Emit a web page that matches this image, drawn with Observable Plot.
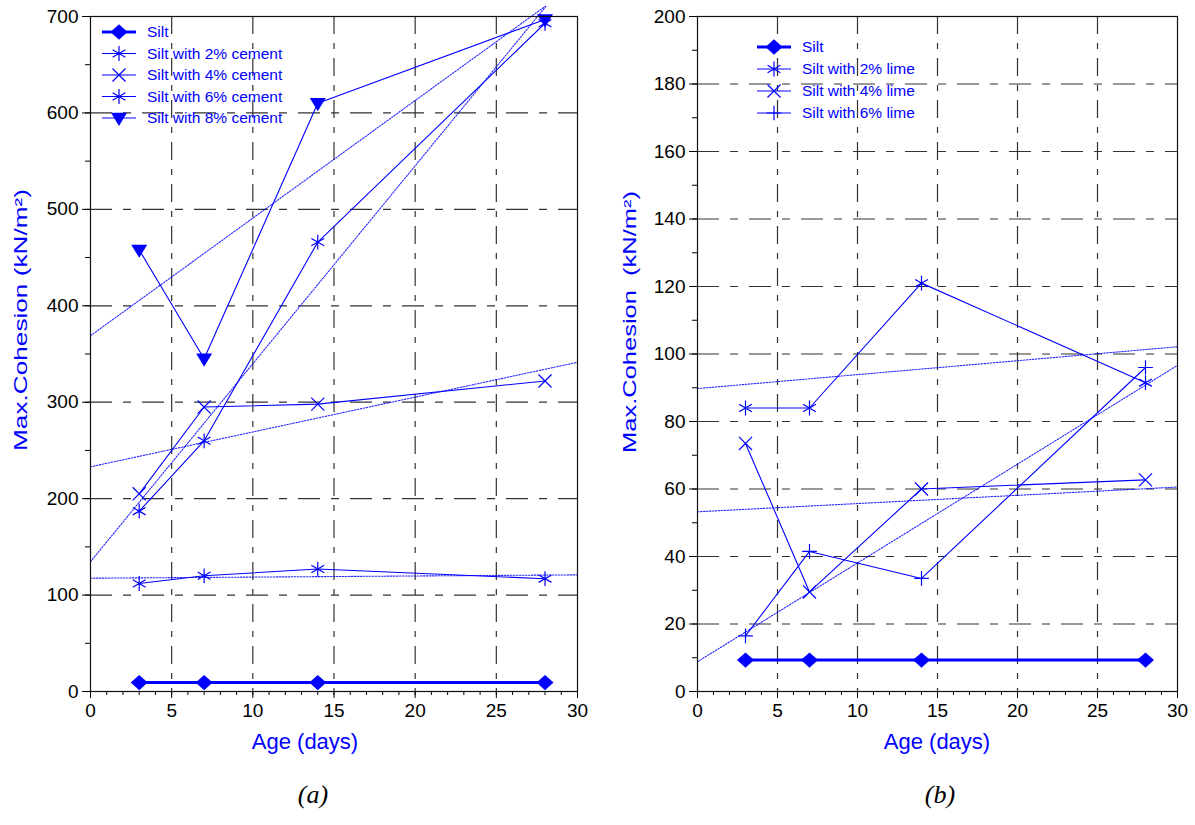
<!DOCTYPE html>
<html><head><meta charset="utf-8">
<script src="https://cdn.jsdelivr.net/npm/d3@7"></script>
<script src="https://cdn.jsdelivr.net/npm/@observablehq/plot@0.6"></script>
<style>
body{margin:0;background:#fff;font-family:Arial,"Liberation Sans",sans-serif;}
#wrap{position:relative;width:1195px;height:825px;overflow:hidden;}
.panel{position:absolute;top:0;}
.cap{position:absolute;top:780px;width:80px;text-align:center;font-family:"Liberation Serif","Times New Roman",serif;font-style:italic;font-size:26px;color:#000;}
</style>
</head><body><div id="wrap"></div>
<script>
// ---------- data ----------
const days = [3, 7, 14, 28];
const xTicks = [0, 5, 10, 15, 20, 25, 30];

const cementNames = ["Silt", "Silt with 2% cement", "Silt with 4% cement", "Silt with 6% cement", "Silt with 8% cement"];
const cementSilt = [9.3, 9.3, 9.3, 9.3];
const cement2 = [112, 120, 127, 117];
const cement4 = [205, 295, 298, 322];
const cement6 = [187, 260, 466, 693];
const cement8 = [458, 345, 610, 697];
const cementYTicks = [0, 100, 200, 300, 400, 500, 600, 700];

const limeNames = ["Silt", "Silt with 2% lime", "Silt with 4% lime", "Silt with 6% lime"];
const limeSilt = [9.3, 9.3, 9.3, 9.3];
const lime2 = [84, 84, 121, 91.5];
const lime4 = [73.5, 29.5, 60, 62.7];
const lime6 = [16.5, 41.5, 33.5, 96];
const limeYTicks = [0, 20, 40, 60, 80, 100, 120, 140, 160, 180, 200];

const yLabelA = "Max.Cohesion (kN/m\u00B2)";
const yLabelB = "Max.Cohesion  (kN/m\u00B2)";
const xLabel = "Age (days)";
const captions = ["(a)", "(b)"];

// ---------- symbols ----------
const BLUE = "#0000ff";
const triDown = {draw(ctx, size){ const r = Math.sqrt(size/Math.PI); ctx.moveTo(-r, -0.65*r); ctx.lineTo(r, -0.65*r); ctx.lineTo(0, r); ctx.closePath(); }};
const diamond = {draw(ctx, size){ const r = Math.sqrt(size/Math.PI); ctx.moveTo(0, -0.9*r); ctx.lineTo(r, 0); ctx.lineTo(0, 0.9*r); ctx.lineTo(-r, 0); ctx.closePath(); }};
const SYM = {
  diamond: {type: diamond, r: 8.5, fill: true},
  asterisk: {type: d3.symbolAsterisk, r: 7, fill: false},
  times: {type: d3.symbolTimes, r: 6, fill: false},
  plus: {type: d3.symbolPlus, r: 4.8, fill: false},
  tri: {type: triDown, r: 8, fill: true}
};

function regress(xs, ys){
  const mx = d3.mean(xs), my = d3.mean(ys);
  let sxy = 0, sxx = 0;
  xs.forEach((x, i) => { sxy += (x-mx)*(ys[i]-my); sxx += (x-mx)*(x-mx); });
  const m = sxy/sxx; return {m, b: my - m*mx};
}

function buildPanel(cfg){
  const rows = [];
  cfg.names.forEach((name, i) => cfg.values[i].forEach((v, j) => rows.push({series: name, idx: i, day: days[j], value: v})));
  const trend = [];
  cfg.names.forEach((name, i) => {
    if (i === 0) return;
    const {m, b} = regress(days, cfg.values[i]);
    const cap = cfg.yMax * 1.015;
    let x1 = 30;
    if (b + m*30 > cap) x1 = (cap - b)/m;
    trend.push({series: name, day: 0, value: b}, {series: name, day: x1, value: b + m*x1});
  });
  const yGrid = cfg.yTicks.filter(d => d > 0 && d < cfg.yMax);
  const xGrid = xTicks.filter(d => d > 0 && d < 30);
  const marks = [
    Plot.ruleX(xGrid, {stroke: "#333", strokeWidth: 1.2, strokeDasharray: "18,9,6,9"}),
    Plot.ruleY(yGrid, {stroke: "#333", strokeWidth: 1.2, strokeDasharray: "22,11,8,11"}),
    Plot.line(trend, {x: "day", y: "value", z: "series", stroke: BLUE, strokeWidth: 1.1, strokeDasharray: "1.5,1.5", strokeOpacity: 0.85}),
    Plot.line(rows.filter(d => d.idx > 0), {x: "day", y: "value", z: "series", stroke: BLUE, strokeWidth: 1.1}),
    Plot.line(rows.filter(d => d.idx === 0), {x: "day", y: "value", stroke: BLUE, strokeWidth: 3}),
    ...cfg.names.map((name, i) => {
      const s = cfg.syms[i];
      return Plot.dot(rows.filter(d => d.idx === i), {x: "day", y: "value", symbol: s.type, r: s.r,
        fill: s.fill ? BLUE : "none", stroke: s.fill ? "none" : BLUE, strokeWidth: 1.2});
    }),
    Plot.axisX({ticks: xTicks, tickSize: 7, tickPadding: 5, label: null, fontSize: 19}),
    Plot.axisX({ticks: d3.range(0, 31), tickSize: 4, tickFormat: () => "", label: null}),
    Plot.axisY({ticks: cfg.yTicks, tickSize: 8, tickPadding: 4, label: null, fontSize: 19}),
    Plot.axisY({ticks: cfg.yMinor, tickSize: 5, tickFormat: () => "", label: null}),
    Plot.frame({stroke: "#111", strokeWidth: 1.2})
  ];
  const svg = Plot.plot({
    width: cfg.width, height: 760,
    marginTop: 16, marginBottom: 69, marginLeft: cfg.marginLeft, marginRight: cfg.marginRight,
    x: {domain: [0, 30]}, y: {domain: [0, cfg.yMax]},
    style: {fontFamily: "Arial, 'Liberation Sans', sans-serif", fontSize: "19px", color: "#000", background: "transparent", overflow: "visible"},
    marks
  });
  const sel = d3.select(svg);
  // axis titles
  sel.append("text").attr("transform", `translate(${cfg.yLabelX},${cfg.yLabelY}) rotate(-90)`)
    .attr("text-anchor", "middle").attr("dy", "0.35em").attr("fill", BLUE)
    .attr("textLength", 262).attr("lengthAdjust", "spacingAndGlyphs")
    .style("font", "18px Arial, 'Liberation Sans', sans-serif").text(cfg.yLabel);
  sel.append("text").attr("x", cfg.xLabelX).attr("y", 749).attr("text-anchor", "middle").attr("fill", BLUE)
    .style("font", "22px Arial, 'Liberation Sans', sans-serif").text(xLabel);
  // legend
  const g = sel.append("g").attr("text-anchor", "start");
  cfg.names.forEach((name, i) => {
    const y = cfg.legY + i*cfg.legDy;
    const s = cfg.syms[i];
    g.append("line").attr("x1", cfg.legX).attr("x2", cfg.legX + 34).attr("y1", y).attr("y2", y)
      .attr("stroke", BLUE).attr("stroke-width", i === 0 ? 3 : 1.1);
    g.append("path").attr("transform", `translate(${cfg.legX + 17},${y})`)
      .attr("d", d3.symbol(s.type, Math.PI*s.r*s.r)())
      .attr("fill", s.fill ? BLUE : "none").attr("stroke", s.fill ? "none" : BLUE).attr("stroke-width", 1.2);
    g.append("text").attr("x", cfg.legTextX).attr("y", y).attr("dy", "0.35em").attr("fill", BLUE)
      .attr("text-anchor", "start")
      .style("font", "15.5px Arial, 'Liberation Sans', sans-serif").text(name);
  });
  const div = document.createElement("div");
  div.className = "panel"; div.style.left = cfg.left + "px";
  div.appendChild(svg);
  return div;
}

const wrap = document.getElementById("wrap");
wrap.appendChild(buildPanel({
  left: 0, width: 590, marginLeft: 90, marginRight: 13, yMax: 700,
  names: cementNames, values: [cementSilt, cement2, cement4, cement6, cement8],
  syms: [SYM.diamond, SYM.asterisk, SYM.times, SYM.asterisk, SYM.tri],
  yTicks: cementYTicks, yMinor: d3.range(0, 701, 50),
  yLabel: yLabelA, yLabelX: 21, yLabelY: 320, xLabelX: 305,
  legX: 102, legY: 32, legDy: 21.5, legTextX: 147
}));
wrap.appendChild(buildPanel({
  left: 600, width: 595, marginLeft: 97, marginRight: 18, yMax: 200,
  names: limeNames, values: [limeSilt, lime2, lime4, lime6],
  syms: [SYM.diamond, SYM.asterisk, SYM.times, SYM.plus],
  yTicks: limeYTicks, yMinor: d3.range(0, 201, 10),
  yLabel: yLabelB, yLabelX: 30, yLabelY: 322, xLabelX: 337,
  legX: 157, legY: 47, legDy: 22, legTextX: 202
}));
captions.forEach((c, i) => {
  const d = document.createElement("div");
  d.className = "cap"; d.style.left = (i === 0 ? 273 : 900) + "px";
  d.textContent = c; wrap.appendChild(d);
});
</script>
</body></html>
